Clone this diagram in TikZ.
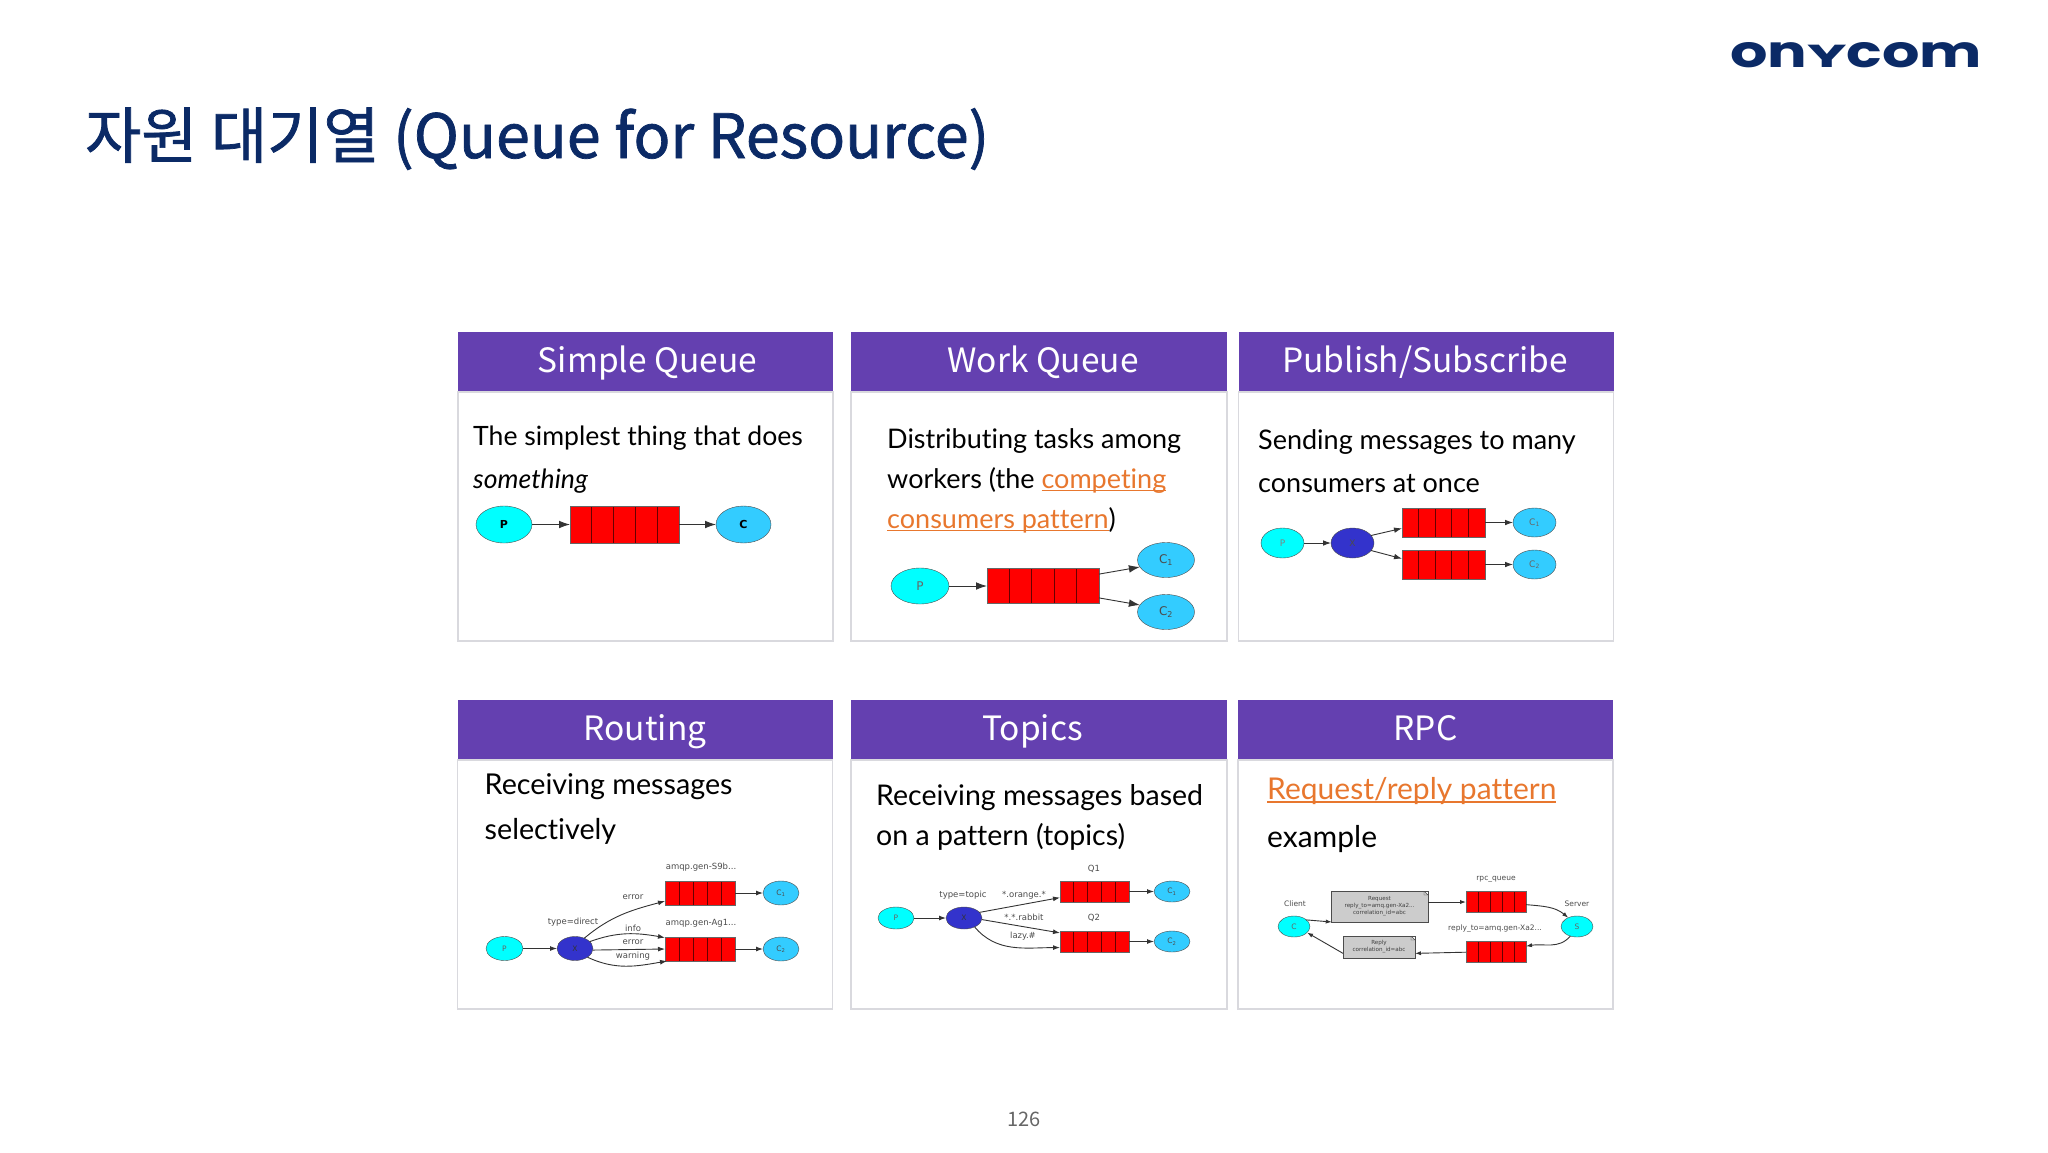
\documentclass[tikz,border=0pt]{standalone}
\usepackage{fontspec}
\usepackage{graphicx}
\usetikzlibrary{positioning,calc,arrows.meta,shapes.geometric}
\setmainfont{Lato}[Ligatures=NoCommon]
\newfontfamily\headfont{Noto Sans CJK KR}
\newfontfamily\titlefont{Noto Sans CJK KR}[FakeBold=1.2]
\newfontfamily\graphfont{DejaVu Sans}
\newfontfamily\logofont{Poppins}[BoldFont=Poppins Bold]
\definecolor{navy}{HTML}{0B2A66}
\definecolor{purple}{HTML}{6440B0}
\definecolor{border}{HTML}{D9D9DE}
\definecolor{linkc}{HTML}{E8772E}
\definecolor{peerc}{HTML}{00FFFF}
\definecolor{consc}{HTML}{33CCFF}
\definecolor{exchc}{HTML}{3333CC}
\definecolor{notec}{HTML}{CCCCCC}
\newcommand{\linktext}[1]{{\color{linkc}\sbox0{#1}\rlap{\rule[-3pt]{\wd0}{1.4pt}}\usebox0}}
\tikzset{
  cardhead/.style={fill=purple, text=white, minimum width=#1, minimum height=60pt, inner sep=0pt, outer sep=0pt,
    text height=26pt, text depth=6pt, font=\headfont\fontsize{33.5}{38}\selectfont},
  cardbody/.style={draw=border, line width=1.6pt, fill=white, minimum width=#1, minimum height=249pt, inner sep=0pt, outer sep=0pt},
  cardtext/.style n args={2}{align=left, anchor=base west, inner sep=0pt, font=\fontsize{#1}{#2}\selectfont},
  oval/.style n args={3}{ellipse, draw=black!70, fill=#1, minimum width=#2, minimum height=#3, inner sep=0pt, outer sep=0pt,
    font=\graphfont\fontsize{7.5}{9}\selectfont},
  queuebox/.style n args={2}{draw=black!60, fill=red, minimum width=#1, minimum height=#2, inner sep=0pt, outer sep=0pt,
    path picture={\foreach \k in {1,...,4}
      \draw[black!60!red, line width=.8pt] ($(path picture bounding box.south west)!\k/5!(path picture bounding box.south east)$)
        -- ($(path picture bounding box.north west)!\k/5!(path picture bounding box.north east)$);}},
  notebox/.style n args={2}{draw=black!70, fill=notec, minimum width=#1, minimum height=#2, inner sep=0pt, outer sep=0pt, align=center,
    font=\graphfont\fontsize{5.6}{7}\selectfont, text=black!75,
    path picture={
      \fill[white] ($(path picture bounding box.north east)+(-4pt,0pt)$) -- (path picture bounding box.north east) -- ($(path picture bounding box.north east)+(0pt,-4pt)$) -- cycle;
      \draw[black!70] ($(path picture bounding box.north east)+(-4pt,0pt)$) -- ($(path picture bounding box.north east)+(-4pt,-4pt)$) -- ($(path picture bounding box.north east)+(0pt,-4pt)$) -- cycle;}},
  flow/.style={-{Latex[length=#1, width=0.7*#1]}, black!80, line width=.9pt},
  flow/.default=8pt,
  edgelabel/.style={inner sep=0pt, text=black!70, font=\graphfont\fontsize{#1}{#1}\selectfont},
  edgelabel/.default=8.5
}
\begin{document}
\begin{tikzpicture}[x=1pt, y=-1pt]
\useasboundingbox (0,0) rectangle (2048,1152);

% title, logo, page number
\node (title) [anchor=base west, inner sep=0pt, text=navy, font=\titlefont\fontsize{61}{70}\selectfont] at (85,158) {자원 대기열 (Queue for Resource)};
\node (logo) [inner sep=0pt, text=navy] at (1856,55.5) {\resizebox{252pt}{25pt}{\logofont\bfseries on\scalebox{1}[.72]{Y}com}};
\node (pageno) [inner sep=0pt, text=black!60, font=\headfont\fontsize{20}{24}\selectfont] at (1024,1119) {126};

% cards, top row
\node (head1) [cardhead=375pt] at (645.5,362) {\hspace*{4pt}Simple Queue};
\node (body1) [cardbody=375pt, below=0pt of head1] {};
\node (head2) [cardhead=376pt] at (1039,362) {\hspace*{8pt}Work Queue};
\node (body2) [cardbody=376pt, below=0pt of head2] {};
\node (head3) [cardhead=375pt] at (1426,362) {Publish/Subscribe\hspace*{2pt}};
\node (body3) [cardbody=375pt, below=0pt of head3] {};

% cards, bottom row
\node (head4) [cardhead=375pt] at (645,730) {Routing};
\node (body4) [cardbody=375pt, below=0pt of head4] {};
\node (head5) [cardhead=376pt] at (1039,730) {Topics\hspace*{13pt}};
\node (body5) [cardbody=376pt, below=0pt of head5] {};
\node (head6) [cardhead=375pt] at (1425.5,730) {RPC};
\node (body6) [cardbody=375pt, below=0pt of head6] {};

% descriptions
\node (text1) [cardtext={26.6}{43}] at (473,488) {The simplest thing that does\\\textit{something}};
\node (text2) [cardtext={27}{40}] at (887,528) {Distributing tasks among\\workers (the \linktext{competing}\\\linktext{consumers pattern})};
\node (text3) [cardtext={27}{43}] at (1258,492) {Sending messages to many\\consumers at once};
\node (text4) [cardtext={28.7}{45}] at (484.5,839) {Receiving messages\\selectively};
\node (text5) [cardtext={28.5}{39.5}] at (876,845) {Receiving messages based\\on a pattern (topics)};
\node (text6) [cardtext={30}{48}] at (1267,847.5) {\linktext{Request/reply pattern}\\example};

% simple queue
\node (p1) [oval={peerc}{56pt}{37pt}, font=\graphfont\bfseries\fontsize{11}{13}\selectfont] at (504,524.5) {P};
\node (q1) [queuebox={109pt}{37pt}, right=38pt of p1] {};
\node (c1) [oval={consc}{55pt}{37pt}, right=37pt of q1, font=\graphfont\bfseries\fontsize{11}{13}\selectfont] {C};
\draw[flow=11pt] (p1) -- (q1);
\draw[flow=11pt] (q1) -- (c1);

% work queue
\node (p2) [oval={peerc}{58pt}{36pt}, text=black!60, font=\graphfont\fontsize{12}{14}\selectfont] at (920,586) {P};
\node (q2) [queuebox={112pt}{35pt}, right=38pt of p2] {};
\node (c21) [oval={consc}{57pt}{35pt}, text=black!70, font=\graphfont\fontsize{12}{14}\selectfont] at (1166,560) {C\textsubscript{1}};
\node (c22) [oval={consc}{57pt}{35pt}, below=17pt of c21, text=black!70, font=\graphfont\fontsize{12}{14}\selectfont] {C\textsubscript{2}};
\draw[flow=11pt] (p2) -- (q2);
\draw[flow=11pt] (q2.12) -- (c21.195);
\draw[flow=11pt] (q2.-12) -- (c22.165);

% publish/subscribe
\node (p3) [oval={peerc}{43pt}{30pt}, text=black!50, font=\graphfont\fontsize{9}{11}\selectfont] at (1282.5,543) {P};
\node (x3) [oval={exchc}{43pt}{30pt}, right=27pt of p3, text=black!70, font=\graphfont\fontsize{9}{11}\selectfont] {X};
\node (q31) [queuebox={83pt}{29pt}] at (1443.5,522.5) {};
\node (q32) [queuebox={83pt}{29pt}, below=13pt of q31] {};
\node (c31) [oval={consc}{43pt}{29pt}, right=28pt of q31, text=black!60, font=\graphfont\fontsize{9}{11}\selectfont] {C\textsubscript{1}};
\node (c32) [oval={consc}{43pt}{29pt}, right=28pt of q32, text=black!60, font=\graphfont\fontsize{9}{11}\selectfont] {C\textsubscript{2}};
\draw[flow] (p3) -- (x3);
\draw[flow] (x3.22) -- (q31.188);
\draw[flow] (x3.-22) -- (q32.172);
\draw[flow] (q31) -- (c31);
\draw[flow] (q32) -- (c32);

% routing
\node (p4) [oval={peerc}{37pt}{24pt}, text=black!60] at (504.5,948.5) {P};
\node (x4) [oval={exchc}{36pt}{24pt}, right=34pt of p4, text=black!80] {X};
\node (q41) [queuebox={70pt}{24pt}] at (700,893) {};
\node (q42) [queuebox={70pt}{24pt}, below=32pt of q41] {};
\node (c41) [oval={consc}{36pt}{24pt}, right=28pt of q41, text=black!70] {C\textsubscript{1}};
\node (c42) [oval={consc}{36pt}{24pt}, right=28pt of q42, text=black!70] {C\textsubscript{2}};
\draw[flow=7pt] (p4) -- (x4);
\draw[flow=7pt] (x4.48) to[out=40, in=195] (q41.193);
\draw[flow=7pt] (x4.25) to[out=20, in=170] (q42.162);
\draw[flow=7pt] (x4.-5) -- (q42.180);
\draw[flow=7pt] (x4.-35) to[out=-25, in=190] (q42.200);
\draw[flow=7pt] (q41) -- (c41);
\draw[flow=7pt] (q42) -- (c42);
\node (lq41) [edgelabel] at (701,867) {amqp.gen-S9b...};
\node (lq42) [edgelabel] at (701,923) {amqp.gen-Ag1...};
\node (lx4) [edgelabel] at (573,922) {type=direct};
\node (le41) [edgelabel] at (633,897) {error};
\node (le42) [edgelabel] at (633,928) {info};
\node (le43) [edgelabel] at (633,942) {error};
\node (le44) [edgelabel] at (633,956) {warning};

% topics
\node (p5) [oval={peerc}{36pt}{22pt}, text=black!60] at (896,918) {P};
\node (x5) [oval={exchc}{36pt}{22pt}, right=32pt of p5, text=black!80] {X};
\node (q51) [queuebox={69pt}{21pt}] at (1094.5,891.5) {};
\node (q52) [queuebox={69pt}{21pt}, below=29pt of q51] {};
\node (c51) [oval={consc}{36pt}{21pt}, right=25pt of q51, text=black!70] {C\textsubscript{1}};
\node (c52) [oval={consc}{36pt}{21pt}, right=25pt of q52, text=black!70] {C\textsubscript{2}};
\draw[flow=7pt] (p5) -- (x5);
\draw[flow=7pt] (x5.20) -- (q51.190);
\draw[flow=7pt] (x5.-5) -- (q52.166);
\draw[flow=7pt] (x5.-40) to[out=-50, in=180] (q52.190);
\draw[flow=7pt] (q51) -- (c51);
\draw[flow=7pt] (q52) -- (c52);
\node (lq51) [edgelabel] at (1094,869) {Q1};
\node (lq52) [edgelabel] at (1094,918) {Q2};
\node (lx5) [edgelabel] at (963,895) {type=topic};
\node (le51) [edgelabel] at (1024,895) {*.orange.*};
\node (le52) [edgelabel] at (1024,917) {*.*.rabbit};
\node (le53) [edgelabel] at (1023,936) {lazy.\#};

% rpc
\node (c6) [oval={peerc}{32pt}{21pt}, text=black!60] at (1294,926.5) {C};
\node (req) [notebox={97pt}{31pt}] at (1379.5,906.5) {Request\\reply\_to=amq.gen-Xa2...\\correlation\_id=abc};
\node (rep) [notebox={72pt}{22pt}] at (1379,947) {Reply\\correlation\_id=abc};
\node (q61) [queuebox={60pt}{21pt}] at (1496,902) {};
\node (q62) [queuebox={60pt}{21pt}, below=28.5pt of q61] {};
\node (s6) [oval={peerc}{32pt}{21pt}, text=black!60] at (1577,926.5) {S};
\draw[flow=6pt] (c6.28) -- (req.-162);
\draw[flow=6pt] (req.east |- q61) -- (q61);
\draw[flow=6pt] (q61) to[out=-5, in=140] (s6.135);
\draw[flow=6pt] (s6.-125) to[out=-130, in=10] (q62);
\draw[flow=6pt] (q62) -- (rep.-10);
\draw[flow=6pt] (rep.-170) -- (c6.-25);
\node (lc6) [edgelabel=7.5] at (1295,904) {Client};
\node (ls6) [edgelabel=7.5] at (1577,904) {Server};
\node (lq61) [edgelabel=7.5] at (1496,879) {rpc\_queue};
\node (lq62) [edgelabel=7.5] at (1495,929) {reply\_to=amq.gen-Xa2...};
\end{tikzpicture}
\end{document}
